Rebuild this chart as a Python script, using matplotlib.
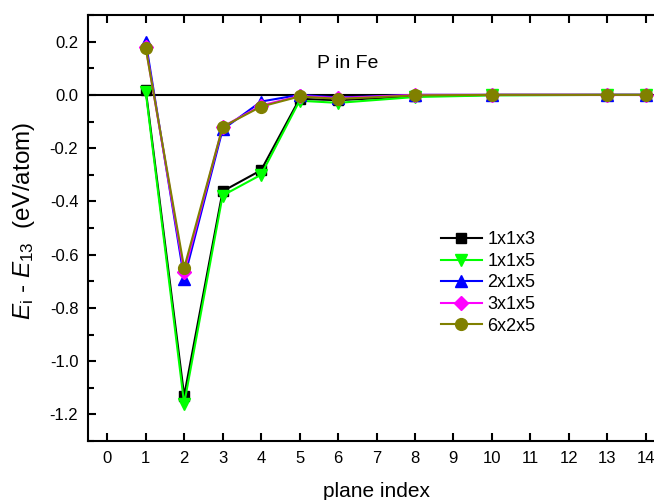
import numpy as np
import matplotlib
matplotlib.use('Agg')
import matplotlib.pyplot as plt
from matplotlib.ticker import MultipleLocator

plt.rcParams['font.family'] = ['Liberation Sans', 'DejaVu Sans']
plt.rcParams['mathtext.fontset'] = 'custom'
plt.rcParams['mathtext.it'] = 'Liberation Sans:italic'
plt.rcParams['mathtext.rm'] = 'Liberation Sans'

planes = [1, 2, 3, 4, 5, 6, 8, 10, 13, 14]
e_113 = [0.02, -1.13, -0.362, -0.283, -0.015, -0.02, -0.005, 0.0, 0.0, 0.0]
e_115 = [0.012, -1.16, -0.378, -0.30, -0.022, -0.03, -0.008, -0.002, 0.0, 0.0]
e_215 = [0.20, -0.69, -0.13, -0.025, 0.0, -0.01, 0.0, 0.0, 0.0, 0.0]
e_315 = [0.18, -0.667, -0.12, -0.04, -0.004, -0.012, 0.0, 0.0, 0.0, 0.0]
e_625 = [0.176, -0.65, -0.12, -0.044, -0.006, -0.015, -0.002, 0.0, 0.0, 0.0]

labels = ['1x1x3', '1x1x5', '2x1x5', '3x1x5', '6x2x5']
colors = ['black', '#00ff00', '#0000ff', '#ff00ff', '#808000']
markers = ['s', 'v', '^', 'D', 'o']
msizes = [7, 8.5, 8.5, 7, 8.5]

fig = plt.figure(figsize=(6.54, 5.0), dpi=100)
ax = fig.add_axes([88/654, 59/500, 577/654, 426/500])

ax.axhline(0, color='black', lw=1.5, zorder=1)
for ys, lab, c, m, s in zip([e_113, e_115, e_215, e_315, e_625], labels, colors, markers, msizes):
    ax.plot(planes, ys, color=c, marker=m, markersize=s, lw=1.5, label=lab)

ax.set_xlim(-0.5, 14.5)
ax.set_ylim(-1.3, 0.3)
ax.xaxis.set_major_locator(MultipleLocator(1))
ax.yaxis.set_major_locator(MultipleLocator(0.2))
ax.yaxis.set_minor_locator(MultipleLocator(0.1))
ax.yaxis.set_major_formatter(plt.FuncFormatter(lambda v, p: f'{v:.1f}'))
ax.tick_params(direction='in', which='both', top=True, right=True, labelsize=12, width=1.5)
ax.tick_params(which='major', length=6, pad=7)
ax.tick_params(which='minor', length=4)
for sp in ax.spines.values():
    sp.set_linewidth(1.5)

ax.set_xlabel('plane index', fontsize=15, labelpad=12)
fig.text(24/654, 1 - 221/500, r'$E_{\mathrm{i}}$ - $E_{13}$  (eV/atom)', fontsize=17.5,
         rotation=90, ha='center', va='center')
fig.text(348/654, 1 - 64/500, 'P in Fe', fontsize=14, ha='center', va='center')

ax.legend(loc='upper left', bbox_to_anchor=(0.583, 0.53), frameon=False, fontsize=13,
          handlelength=2.3, handletextpad=0.3, labelspacing=0.25)

fig.savefig('out.png', dpi=100)
